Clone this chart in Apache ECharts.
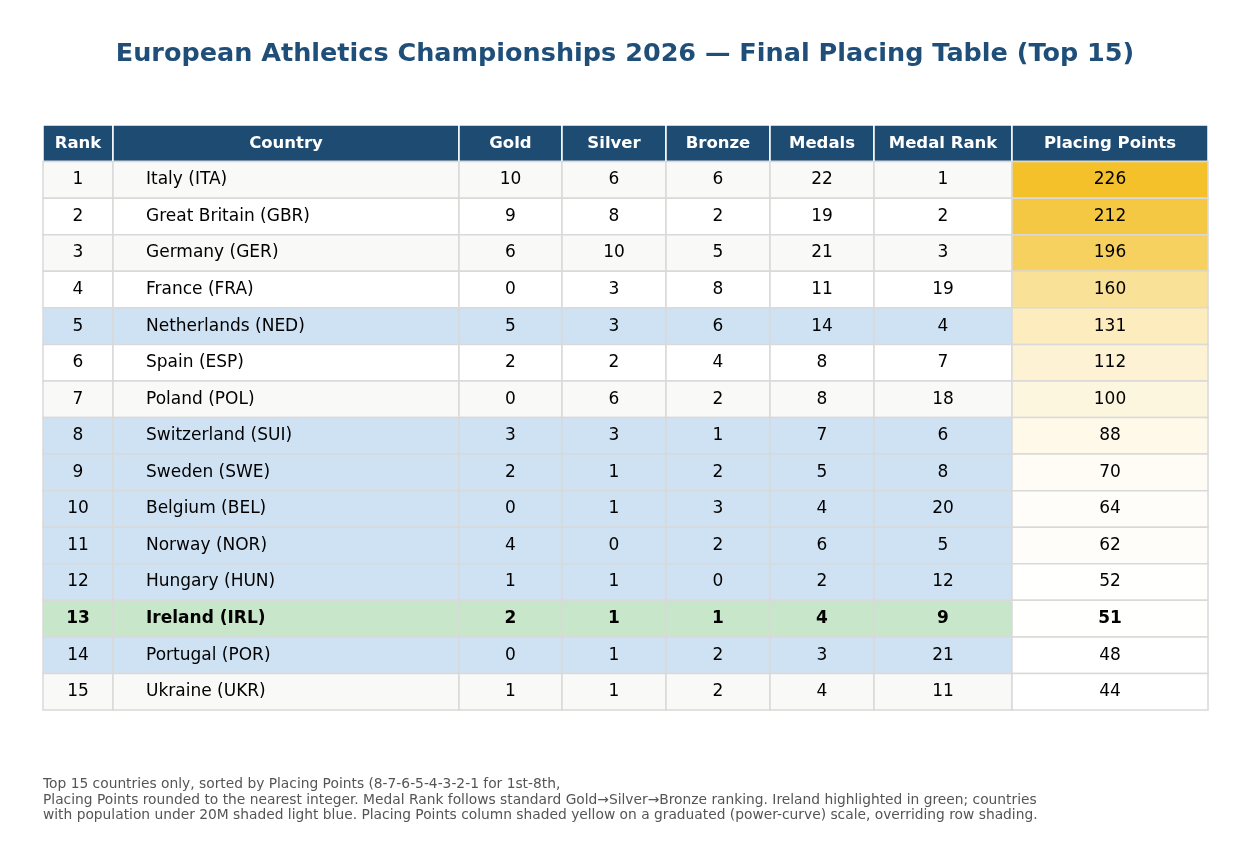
<!DOCTYPE html>
<html><head><meta charset="utf-8">
<script src="https://cdn.jsdelivr.net/npm/echarts@6/dist/echarts.min.js"></script>
<style>html,body{margin:0;background:#fff}#c{width:1250px;height:865px}</style>
</head><body><div id="c"></div>
<script>
const headers = ['Rank','Country','Gold','Silver','Bronze','Medals','Medal Rank','Placing Points'];
const ranks = [1,2,3,4,5,6,7,8,9,10,11,12,13,14,15];
const countries = ['Italy (ITA)','Great Britain (GBR)','Germany (GER)','France (FRA)','Netherlands (NED)','Spain (ESP)','Poland (POL)','Switzerland (SUI)','Sweden (SWE)','Belgium (BEL)','Norway (NOR)','Hungary (HUN)','Ireland (IRL)','Portugal (POR)','Ukraine (UKR)'];
const gold = [10,9,6,0,5,2,0,3,2,0,4,1,2,0,1];
const silver = [6,8,10,3,3,2,6,3,1,1,0,1,1,1,1];
const bronze = [6,2,5,8,6,4,2,1,2,3,2,0,1,2,2];
const medals = [22,19,21,11,14,8,8,7,5,4,6,2,4,3,4];
const medalRank = [1,2,3,19,4,7,18,6,8,20,5,12,9,21,11];
const placingPoints = [226,212,196,160,131,112,100,88,70,64,62,52,51,48,44];
const smallPop = ['Netherlands (NED)','Switzerland (SUI)','Sweden (SWE)','Belgium (BEL)','Norway (NOR)','Hungary (HUN)','Ireland (IRL)','Portugal (POR)'];
const highlight = 'Ireland (IRL)';

const edges = [0,70,416,519,623,727,831,969,1165];
const columns = [ranks,countries,gold,silver,bronze,medals,medalRank,placingPoints];
const rowCats = ['H'].concat(ranks.map(String));

const data = [];
for (let c=0;c<headers.length;c++){
  data.push([c,0,headers[c]]);
  for (let r=0;r<ranks.length;r++) data.push([c,r+1,columns[c][r]]);
}
const pMin = Math.min(...placingPoints), pMax = Math.max(...placingPoints);
function yellow(v){
  const t = Math.pow((v-pMin)/(pMax-pMin),1.6);
  const a=[255,255,255], b=[244,193,43];
  return 'rgb('+a.map((x,i)=>Math.round(x+(b[i]-x)*t)).join(',')+')';
}
function fill(c,r){
  if (r===0) return '#1d4b72';
  const name = countries[r-1];
  if (c===7) return yellow(placingPoints[r-1]);
  if (name===highlight) return '#c8e6c9';
  if (smallPop.includes(name)) return '#cfe2f3';
  return (r%2===1)?'#f9f9f8':'#ffffff';
}
const chart = echarts.init(document.getElementById('c'));
chart.setOption({
  animation:false,
  title:{text:'European Athletics Championships 2026 — Final Placing Table (Top 15)',left:'center',top:36,
    textStyle:{fontFamily:'DejaVu Sans',fontSize:25.5,fontWeight:'bold',color:'#1f4e79'}},
  grid:{left:43,right:42,top:125,bottom:155},
  xAxis:{type:'value',min:0,max:1165,show:false},
  yAxis:{type:'category',data:rowCats,inverse:true,show:false},
  series:[{type:'custom',data:data,encode:{x:0,y:1},
    renderItem:function(params,api){
      const c=api.value(0), r=api.value(1), txt=data[params.dataIndex][2];
      const p0=api.coord([edges[c],r]), p1=api.coord([edges[c+1],r]);
      const h=api.size([0,1])[1];
      const y0=p0[1]-h/2;
      const bold = r===0 || countries[r-1]===highlight;
      const left = c===1 && r>0;
      return {type:'group',children:[
        {type:'rect',shape:{x:p0[0],y:y0,width:p1[0]-p0[0],height:h},
          style:{fill:fill(c,r),stroke:r===0?'#ffffff':'#d9d9d9',lineWidth:1.5}},
        {type:'text',style:{text:String(txt),x:left?p0[0]+33:(p0[0]+p1[0])/2,y:p0[1],
          align:left?'left':'center',verticalAlign:'middle',
          fontFamily:'DejaVu Sans',fontSize:r===0?16.5:17,fontWeight:bold?'bold':'normal',
          fill:r===0?'#ffffff':'#000000'}}
      ]};
    }}],
  graphic:[{type:'text',left:43,top:777,style:{
    text:'Top 15 countries only, sorted by Placing Points (8-7-6-5-4-3-2-1 for 1st-8th,\nPlacing Points rounded to the nearest integer. Medal Rank follows standard Gold→Silver→Bronze ranking. Ireland highlighted in green; countries\nwith population under 20M shaded light blue. Placing Points column shaded yellow on a graduated (power-curve) scale, overriding row shading.',
    fontFamily:'DejaVu Sans',fontSize:13.8,lineHeight:15.5,fill:'#555555'}}]
});
</script></body></html>
